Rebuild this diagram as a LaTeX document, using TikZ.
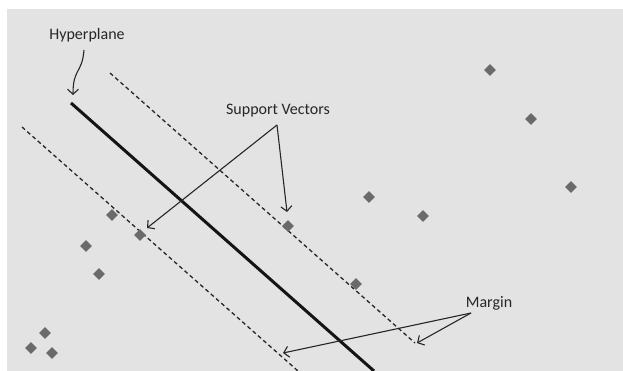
\documentclass[tikz,border=0pt]{standalone}
\usepackage{fontspec}
\setmainfont{Carlito}
\usetikzlibrary{arrows.meta,shapes.geometric}
\definecolor{panel}{HTML}{E3E3E3}
\definecolor{ptgrey}{HTML}{6A6A6A}
\definecolor{ink}{HTML}{262626}

\begin{document}
\begin{tikzpicture}[x=1pt,y=-1pt,
  pt/.style={diamond, fill=ptgrey, inner sep=0pt, minimum width=12pt, minimum height=12pt},
  lbl/.style={font=\fontsize{16}{18}\selectfont, text=ink, inner sep=0pt},
  callout/.style={draw=ink, line width=1.1pt, -{Straight Barb[length=5pt,width=11pt]}},
  hyper/.style={line width=3pt, black!92},
  marginline/.style={line width=1.3pt, dash pattern=on 4pt off 3pt, black!85},
]
\useasboundingbox (0,0) rectangle (623,371);
\fill[panel] (7,9) rectangle (623,371);

% separating line and the two margin boundaries
\coordinate (h1) at (71,103);  \coordinate (h2) at (374,371);
\coordinate (u1) at (110,73);  \coordinate (u2) at (415,343);
\coordinate (l1) at (22,127);  \coordinate (l2) at (298,371);
\draw[marginline] (u1) -- (u2);
\draw[marginline] (l1) -- (l2);
\draw[hyper] (h1) -- (h2);

% data points
\foreach \n/\x/\y in {a/490/70, b/531/119, c/571/187, d/369/197, e/423/216,
    f/288/226, g/356/284, h/112/215, i/140/235, j/86/246, k/99/274,
    m/45/333, n/31/348, o/52/353}
  \node[pt] (p\n) at (\x,\y) {};

% labels
\node[lbl] (hyplab) at (87,35) {Hyperplane};
\node[lbl] (svlab) at (278,111) {Support Vectors};
\node[lbl] (mglab) at (489,303) {Margin};

% callout arrows
\coordinate (hc) at (84,50);
\draw[callout] (hc) .. controls (82,74) and (73,68) .. (73,95);
\coordinate (svj) at (277,125);
\coordinate (sv1) at (147,228);
\coordinate (sv2) at (287,212);
\draw[callout] (svj) -- (sv1);
\draw[callout] (svj) -- (sv2);
\coordinate (mgj) at (471,313);
\coordinate (mg1) at (417,343);
\coordinate (mg2) at (283,353);
\draw[callout] (mgj) -- (mg1);
\draw[callout] (mgj) -- (mg2);
\end{tikzpicture}
\end{document}
